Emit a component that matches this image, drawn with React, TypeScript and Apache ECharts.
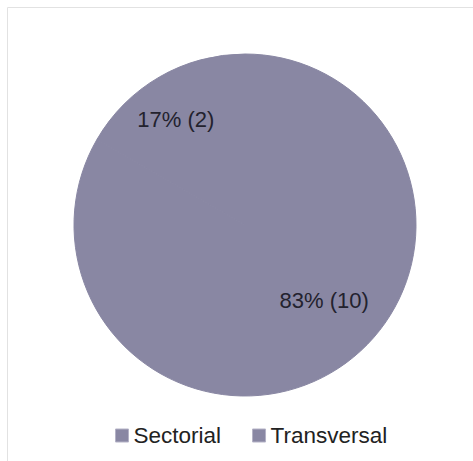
import React, { useEffect, useRef } from "react";
import * as echarts from "echarts";

const categories = ["Sectorial", "Transversal"];
const counts = [2, 10];
const percents = [17, 83];

export default function App() {
  const ref = useRef<HTMLDivElement>(null);
  useEffect(() => {
    if (!ref.current) return;
    const chart = echarts.init(ref.current, undefined, { renderer: "svg" });
    const color = "#8987a3";
    const offsets = [
      [-25, -29],
      [35, -1],
    ];
    chart.setOption({
      animation: false,
      backgroundColor: "#ffffff",
      graphic: [
        {
          type: "rect",
          shape: { x: 7.5, y: 7.5, width: 480, height: 470 },
          style: { fill: "none", stroke: "#e2e2e2", lineWidth: 1 },
          silent: true,
        },
      ],
      legend: {
        data: categories,
        left: 110,
        top: 419,
        itemWidth: 13,
        itemHeight: 13,
        itemGap: 31,
        icon: "rect",
        textStyle: { fontFamily: "Liberation Sans, Arial", fontSize: 22.5, color: "#222222" },
        itemStyle: { borderColor: "#b4b2c6", borderWidth: 1 },
      },
      series: [
        {
          type: "pie",
          center: [245, 225],
          radius: 171,
          startAngle: 90,
          clockwise: false,
          color: [color, color],
          itemStyle: { borderWidth: 1, borderColor: color },
          emphasis: { disabled: true },
          labelLine: { show: false },
          data: categories.map((c, i) => ({
            name: c,
            value: counts[i],
            label: {
              show: true,
              position: "inner",
              offset: offsets[i],
              formatter: `${percents[i]}% (${counts[i]})`,
              fontFamily: "Liberation Sans, Arial",
              fontSize: 22,
              color: "#23222e",
            },
          })),
        },
      ],
    });
    return () => chart.dispose();
  }, []);
  return (
    <div
      ref={ref}
      style={{ position: "fixed", left: 0, top: 0, width: 473, height: 461 }}
    />
  );
}
